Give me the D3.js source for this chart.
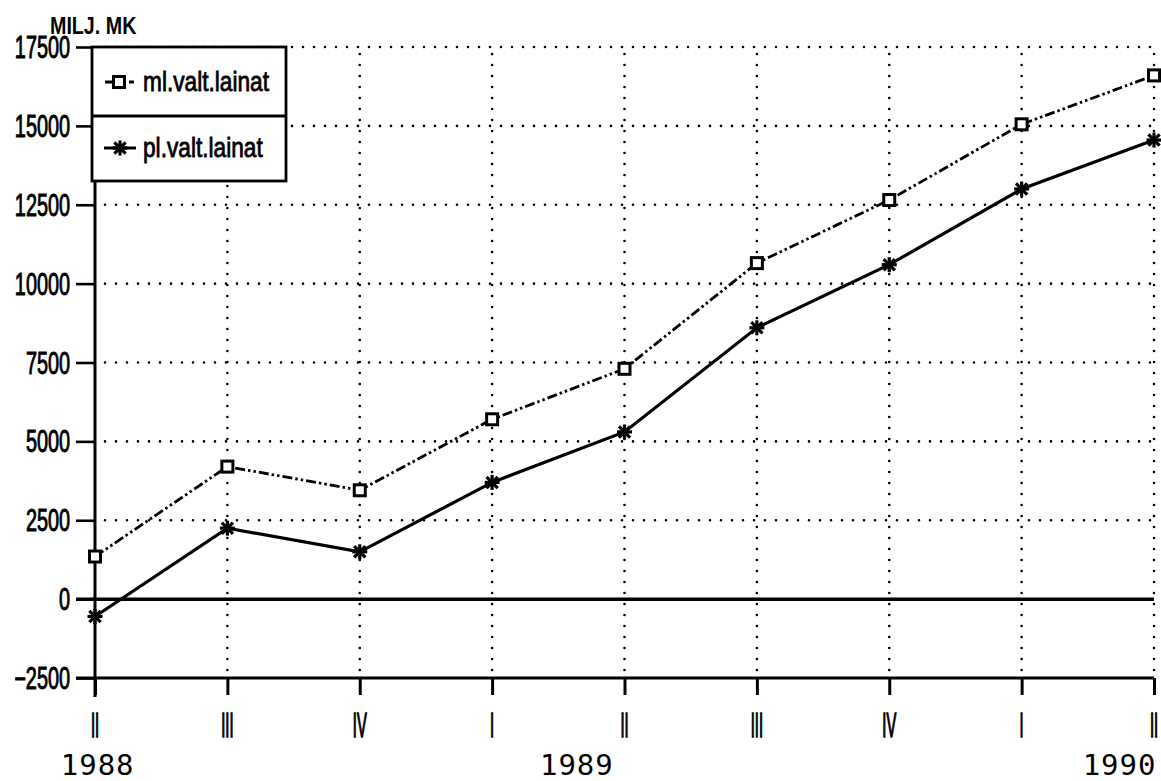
<!DOCTYPE html>
<html>
<head>
<meta charset="utf-8">
<script src="https://cdn.jsdelivr.net/npm/d3@7"></script>
<style>
  body { margin: 0; background: #fff; }
  svg { display: block; }
  text { fill: #000; }
</style>
</head>
<body>
<svg id="chart"></svg>
<script>
// data
const quarters = ["II", "III", "IV", "I", "II", "III", "IV", "I", "II"];
const years = ["1988", "1989", "1990"];
const mlValues = [1350, 4200, 3450, 5700, 7300, 10650, 12650, 15050, 16600];
const plValues = [-550, 2250, 1500, 3700, 5300, 8600, 10600, 13000, 14550];
const yTicks = [-2500, 0, 2500, 5000, 7500, 10000, 12500, 15000, 17500];
const seriesNames = ["ml.valt.lainat", "pl.valt.lainat"];

const W = 1161, H = 781;
const plotLeft = 95, plotRight = 1154, plotTop = 47, plotBottom = 678;

const svg = d3.select("#chart").attr("width", W).attr("height", H);

const x = d3.scaleLinear().domain([0, quarters.length - 1]).range([plotLeft, plotRight]);
const y = d3.scaleLinear().domain([-2500, 17500]).range([plotBottom, plotTop]);

// dotted grid
const grid = svg.append("g")
    .attr("stroke", "#000")
    .attr("stroke-width", 2.6)
    .attr("stroke-linecap", "round")
    .attr("stroke-dasharray", "0,11");

grid.selectAll(".hgrid")
    .data(yTicks.filter(d => d > 0))
    .enter().append("line")
    .attr("x1", plotLeft + 10).attr("x2", plotRight)
    .attr("y1", d => y(d)).attr("y2", d => y(d));

grid.selectAll(".vgrid")
    .data(d3.range(1, quarters.length))
    .enter().append("line")
    .attr("x1", d => x(d)).attr("x2", d => x(d))
    .attr("y1", plotBottom - 8).attr("y2", plotTop);

// axes
const yAxis = d3.axisLeft(y).tickValues(yTicks).tickSize(19).tickFormat("");
svg.append("g")
    .attr("transform", `translate(${plotLeft},0)`)
    .call(yAxis)
    .call(g => g.select(".domain").remove())
    .call(g => g.selectAll(".tick line").attr("stroke-width", 2.6));

svg.append("line")
    .attr("x1", plotLeft).attr("x2", plotLeft)
    .attr("y1", plotTop).attr("y2", plotBottom + 19)
    .attr("stroke", "#000").attr("stroke-width", 3);

const xAxis = d3.axisBottom(x).tickValues(d3.range(quarters.length)).tickSize(17).tickFormat("");
svg.append("g")
    .attr("transform", `translate(0,${plotBottom})`)
    .call(xAxis)
    .call(g => g.select(".domain").remove())
    .call(g => g.selectAll(".tick line").attr("stroke-width", 3));

svg.append("line")
    .attr("x1", plotLeft - 19).attr("x2", plotRight)
    .attr("y1", plotBottom).attr("y2", plotBottom)
    .attr("stroke", "#000").attr("stroke-width", 2.8);

// zero line
svg.append("line")
    .attr("x1", plotLeft - 19).attr("x2", plotRight)
    .attr("y1", y(0)).attr("y2", y(0))
    .attr("stroke", "#000").attr("stroke-width", 3.5);

// y tick labels (narrow face)
svg.selectAll(".ylab")
    .data(yTicks)
    .enter().append("g")
    .attr("transform", d => `translate(70,${y(d) + 11}) scale(0.64,1)`)
    .append("text")
    .attr("text-anchor", "end")
    .attr("font-family", "Liberation Sans")
    .attr("font-size", 31)
    .attr("stroke", "#000").attr("stroke-width", 1)
    .text(d => d < 0 ? "\u2212" + Math.abs(d) : d);

svg.append("g")
    .attr("transform", "translate(50,34) scale(0.82,1)")
    .append("text")
    .attr("font-family", "Liberation Sans")
    .attr("font-weight", "bold")
    .attr("font-size", 24)
    .text("MILJ. MK");

// quarter labels
svg.selectAll(".qlab")
    .data(quarters)
    .enter().append("g")
    .attr("transform", (d, i) => `translate(${x(i)},737) scale(0.42,1)`)
    .append("text")
    .attr("text-anchor", "middle")
    .attr("font-family", "Liberation Sans")
    .attr("font-size", 35)
    .attr("stroke", "#000").attr("stroke-width", 1.6)
    .text(d => d);

// year labels
const yearPos = [0.02, 3.64, 7.74];
svg.selectAll(".yr")
    .data(years)
    .enter().append("text")
    .attr("x", (d, i) => x(yearPos[i]))
    .attr("y", 775)
    .attr("text-anchor", "middle")
    .attr("font-family", "DejaVu Sans Mono")
    .attr("font-size", 29)
    .attr("letter-spacing", 1)
    .text(d => d);

// lines
const line = d3.line().x((d, i) => x(i)).y(d => y(d));
const mlDash = "10,3,2.5,3,2.5,3";

svg.append("path")
    .datum(mlValues)
    .attr("d", line)
    .attr("fill", "none")
    .attr("stroke", "#000")
    .attr("stroke-width", 2.8)
    .attr("stroke-dasharray", mlDash);

svg.append("path")
    .datum(plValues)
    .attr("d", line)
    .attr("fill", "none")
    .attr("stroke", "#000")
    .attr("stroke-width", 3.2);

function square(g) {
    g.append("rect")
        .attr("x", -5.5).attr("y", -5.5)
        .attr("width", 11).attr("height", 11)
        .attr("fill", "#fff")
        .attr("stroke", "#000")
        .attr("stroke-width", 3);
}

function star(g) {
    const r = 7.5;
    [[-r, 0, r, 0], [0, -r, 0, r], [-r * 0.75, -r * 0.75, r * 0.75, r * 0.75], [-r * 0.75, r * 0.75, r * 0.75, -r * 0.75]]
        .forEach(s => g.append("line")
            .attr("x1", s[0]).attr("y1", s[1]).attr("x2", s[2]).attr("y2", s[3])
            .attr("stroke", "#000").attr("stroke-width", 3.2));
}

svg.selectAll(".mlpt")
    .data(mlValues)
    .enter().append("g")
    .attr("transform", (d, i) => `translate(${x(i)},${y(d)})`)
    .each(function() { square(d3.select(this)); });

svg.selectAll(".plpt")
    .data(plValues)
    .enter().append("g")
    .attr("transform", (d, i) => `translate(${x(i)},${y(d)})`)
    .each(function() { star(d3.select(this)); });

// legend
const legend = svg.append("g");

legend.append("rect")
    .attr("x", 92).attr("y", 47)
    .attr("width", 194).attr("height", 134)
    .attr("fill", "#fff")
    .attr("stroke", "#000")
    .attr("stroke-width", 2.8);

legend.append("line")
    .attr("x1", 92).attr("x2", 286)
    .attr("y1", 116).attr("y2", 116)
    .attr("stroke", "#000").attr("stroke-width", 2.8);

const rowY = [82, 148];

legend.append("line")
    .attr("x1", 105).attr("x2", 134)
    .attr("y1", rowY[0]).attr("y2", rowY[0])
    .attr("stroke", "#000").attr("stroke-width", 2.8)
    .attr("stroke-dasharray", mlDash);
square(legend.append("g").attr("transform", `translate(119,${rowY[0]})`));

legend.append("line")
    .attr("x1", 104).attr("x2", 136)
    .attr("y1", rowY[1]).attr("y2", rowY[1])
    .attr("stroke", "#000").attr("stroke-width", 3);
star(legend.append("g").attr("transform", `translate(120,${rowY[1]})`));

legend.selectAll(".ltext")
    .data(seriesNames)
    .enter().append("g")
    .attr("transform", (d, i) => `translate(143,${rowY[i] + 9}) scale(0.84,1)`)
    .append("text")
    .attr("font-family", "Liberation Sans")
    .attr("font-size", 27)
    .attr("stroke", "#000").attr("stroke-width", 0.8)
    .text(d => d);
</script>
</body>
</html>
